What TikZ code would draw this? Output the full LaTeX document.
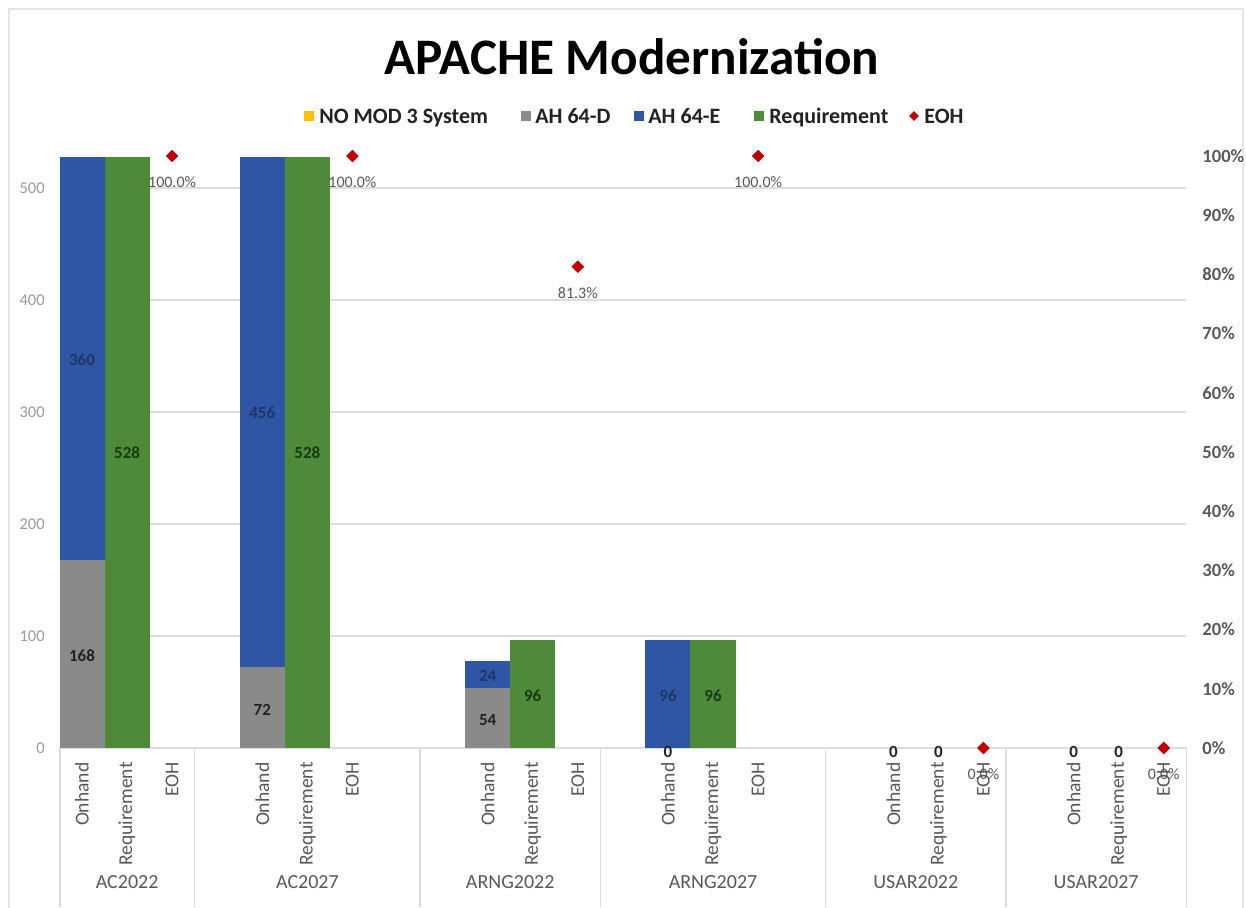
\documentclass[tikz,border=0pt]{standalone}
\usepackage{fontspec}
\setmainfont{Carlito}
\usetikzlibrary{shapes.geometric}
\definecolor{cblue}{HTML}{2F56A5}
\definecolor{cgrey}{HTML}{8A8A8A}
\definecolor{cgreen}{HTML}{4E8A3A}
\definecolor{cyellow}{HTML}{FFC000}
\definecolor{cred}{HTML}{C00000}
\definecolor{gridc}{HTML}{DDDDDD}
\definecolor{frame}{HTML}{E6E6E6}
\definecolor{axtext}{HTML}{9A9A9A}
\definecolor{cattext}{HTML}{595959}
\definecolor{dblue}{HTML}{1F3468}
\definecolor{dgreen}{HTML}{173A12}
\definecolor{dtext}{HTML}{222222}
\begin{document}
\begin{tikzpicture}[x=0.5pt,y=-0.5pt,
  gridline/.style={draw=gridc, line width=0.7pt},
  barD/.style={fill=cgrey},
  barE/.style={fill=cblue},
  barR/.style={fill=cgreen},
  lax/.style={font=\fontsize{8.2}{9}\selectfont, text=axtext, anchor=east, inner sep=0pt},
  rax/.style={font=\fontsize{9.3}{10}\selectfont\bfseries, text=cattext, anchor=west, inner sep=0pt},
  cat/.style={font=\fontsize{9.8}{10}\selectfont, text=cattext, rotate=90, anchor=east, inner sep=0pt},
  grp/.style={font=\fontsize{10}{11}\selectfont, text=cattext, inner sep=0pt},
  dl/.style={font=\fontsize{8.5}{9}\selectfont\bfseries, inner sep=0pt},
  eohl/.style={font=\fontsize{8}{9}\selectfont, text=cattext, inner sep=0pt},
  mk/.style={diamond, fill=cred, inner sep=0pt, minimum width=6.5pt, minimum height=6.5pt},
  leg/.style={font=\fontsize{11}{12}\selectfont\bfseries, text=dtext, anchor=base west, inner sep=0pt},
  legsq/.style={minimum size=4.8pt, inner sep=0pt}
]
\useasboundingbox (0,0) rectangle (1246,907);
\fill[white] (0,0) rectangle (1246,907);
\draw[frame, line width=0.8pt] (9,910) -- (9,9) -- (1243,9) -- (1243,910);

% title
\node[font=\fontsize{25.6}{28}\selectfont\bfseries, text=black] (title) at (632,57) {APACHE Modernization};

% legend
\node[legsq, fill=cyellow] (lsq1) at (309,116) {};
\node[leg] (l1) at (319,123) {NO MOD 3 System};
\node[legsq, fill=cgrey] (lsq2) at (526,116) {};
\node[leg] (l2) at (535,123) {AH 64-D};
\node[legsq, fill=cblue] (lsq3) at (639,116) {};
\node[leg] (l3) at (648,123) {AH 64-E};
\node[legsq, fill=cgreen] (lsq4) at (759,116) {};
\node[leg] (l4) at (769,123) {Requirement};
\node[mk, minimum width=5pt, minimum height=5pt] (lsq5) at (914,116) {};
\node[leg] (l5) at (924,123) {EOH};

% gridlines
\foreach \v in {100,200,300,400,500} {
  \draw[gridline] (60,{748-1.12*\v}) -- (1186,{748-1.12*\v});
}
\draw[gridline] (60,748) -- (1186,748);
% category separators
\foreach \x in {60,194.7,420.1,600.3,825.7,1006,1186.3} {
  \draw[gridline] (\x,748) -- (\x,907);
}

% left axis
\node[lax] (y0) at (45,748) {0};
\node[lax] (y1) at (45,636) {100};
\node[lax] (y2) at (45,524) {200};
\node[lax] (y3) at (45,412) {300};
\node[lax] (y4) at (45,300) {400};
\node[lax] (y5) at (45,188) {500};

% right axis
\foreach \p in {0,10,...,100} {
  \node[rax] (r\p) at (1202,{748-5.92*\p}) {\p\%};
}

% bars  (slot width 45.07, left edge 59.5 + 45.07 i)
% AC2022
\fill[barD] (59.5,748) rectangle (104.57,{748-1.12*168});
\fill[barE] (59.5,{748-1.12*168}) rectangle (104.57,{748-1.12*528});
\fill[barR] (104.57,748) rectangle (149.64,{748-1.12*528});
% AC2027
\fill[barD] (239.78,748) rectangle (284.85,{748-1.12*72});
\fill[barE] (239.78,{748-1.12*72}) rectangle (284.85,{748-1.12*528});
\fill[barR] (284.85,748) rectangle (329.92,{748-1.12*528});
% ARNG2022
\fill[barD] (465.13,748) rectangle (510.2,{748-1.12*54});
\fill[barE] (465.13,{748-1.12*54}) rectangle (510.2,{748-1.12*78});
\fill[barR] (510.2,748) rectangle (555.27,{748-1.12*96});
% ARNG2027
\fill[barE] (645.41,748) rectangle (690.48,{748-1.12*96});
\fill[barR] (690.48,748) rectangle (735.55,{748-1.12*96});

% data labels
\node[dl, text=dtext] (d1) at (82,656) {168};
\node[dl, text=dblue] (d2) at (82,360) {360};
\node[dl, text=dgreen] (d3) at (127.1,453) {528};
\node[dl, text=dtext] (d4) at (262.3,710) {72};
\node[dl, text=dblue] (d5) at (262.3,413) {456};
\node[dl, text=dgreen] (d6) at (307.4,453) {528};
\node[dl, text=dtext] (d7) at (487.7,720) {54};
\node[dl, text=dblue] (d8) at (487.7,676) {24};
\node[dl, text=dgreen] (d9) at (532.7,696) {96};
\node[dl, text=dtext] (d10) at (668,752) {0};
\node[dl, text=dblue] (d11) at (668,696) {96};
\node[dl, text=dgreen] (d12) at (713,696) {96};
\node[dl, text=dtext] (d13) at (893.3,752) {0};
\node[dl, text=dtext] (d14) at (938.4,752) {0};
\node[dl, text=dtext] (d15) at (1073.6,752) {0};
\node[dl, text=dtext] (d16) at (1118.7,752) {0};

% category labels
\foreach \i/\n in {0/a,4/b,9/c,13/d,18/e,22/f} {
  \node[cat] (on\n) at ({82+45.07*\i},762) {Onhand};
  \node[cat] (rq\n) at ({82+45.07*(\i+1)},762) {Requirement};
  \node[cat] (eo\n) at ({82+45.07*(\i+2)},762) {EOH};
}

% EOH markers and labels
\node[mk] (m1) at (172.1,156) {};
\node[eohl] (e1) at (172.1,182) {100.0\%};
\node[mk] (m2) at (352.4,156) {};
\node[eohl] (e2) at (352.4,182) {100.0\%};
\node[mk] (m3) at (577.8,266.7) {};
\node[eohl] (e3) at (577.8,293) {81.3\%};
\node[mk] (m4) at (758.1,156) {};
\node[eohl] (e4) at (758.1,182) {100.0\%};
\node[mk] (m5) at (983.4,748) {};
\node[eohl] (e5) at (983.4,774) {0.0\%};
\node[mk] (m6) at (1163.7,748) {};
\node[eohl] (e6) at (1163.7,774) {0.0\%};

% group labels
\node[grp] (g1) at (127.1,882) {AC2022};
\node[grp] (g2) at (307.4,882) {AC2027};
\node[grp] (g3) at (510.2,882) {ARNG2022};
\node[grp] (g4) at (713,882) {ARNG2027};
\node[grp] (g5) at (915.8,882) {USAR2022};
\node[grp] (g6) at (1096.1,882) {USAR2027};
\end{tikzpicture}
\end{document}
